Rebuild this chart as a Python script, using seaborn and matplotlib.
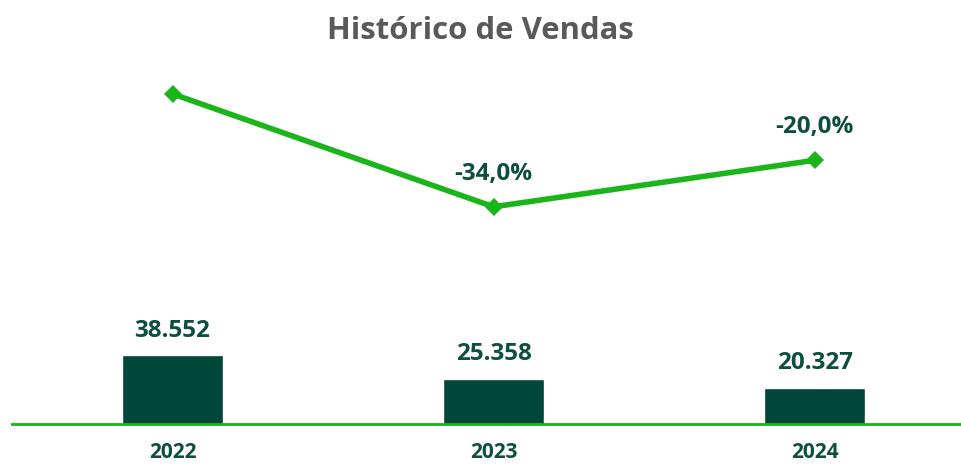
import pandas as pd
import matplotlib.pyplot as plt
import seaborn as sns

# dados
anos = ["2022", "2023", "2024"]
vendas = [38552, 25358, 20327]
variacao = [0.0, -34.0, -20.0]
rotulos_var = ["", "-34,0%", "-20,0%"]

verde_escuro = "#00473a"
verde_claro = "#1ab51a"
texto = "#0d4f3f"

sns.set_theme(style="white")
plt.rcParams['font.family'] = ['Open Sans', 'DejaVu Sans']

df = pd.DataFrame({'ano': anos, 'vendas': vendas, 'var': variacao})

fig = plt.figure(figsize=(9.61, 4.66), dpi=100)
ax = fig.add_axes([12 / 961, 42 / 466, 949 / 961, 364 / 466])

sns.barplot(data=df, x='ano', y='vendas', color=verde_escuro, width=0.315,
            saturation=1, ax=ax)
ax.set_xlim(-0.5, 2.456)
ax.set_ylim(0, 203400)
ax.set_xlabel("")
ax.set_ylabel("")
ax.set_yticks([])
for s in ['top', 'right', 'left']:
    ax.spines[s].set_visible(False)
ax.spines['bottom'].set_color(verde_claro)
ax.spines['bottom'].set_linewidth(2)
ax.tick_params(axis='x', length=0, pad=13, labelsize=15, labelcolor=texto)
for lbl in ax.get_xticklabels():
    lbl.set_fontweight('bold')

for i, v in enumerate(vendas):
    ax.annotate(f"{v:,}".replace(",", "."), (i, v), xytext=(0, 9),
                textcoords='offset points', ha='center', va='bottom',
                fontsize=17.5, fontweight='bold', color=texto)

ax2 = ax.twinx()
sns.lineplot(x=list(range(len(anos))), y=variacao, color=verde_claro,
             linewidth=4, marker='D', markersize=9, markeredgewidth=0,
             ax=ax2)
ax2.set_ylim(-99.4, 10.2)
ax2.set_yticks([])
for s in ['top', 'right', 'left', 'bottom']:
    ax2.spines[s].set_visible(False)

for i, (v, t) in enumerate(zip(variacao, rotulos_var)):
    if t:
        ax2.annotate(t, (i, v), xytext=(0, 15), textcoords='offset points',
                     ha='center', va='bottom', fontsize=17.5,
                     fontweight='bold', color=texto)

fig.text(0.5, 1 - 31 / 466, "Histórico de Vendas", ha='center', va='center',
         fontsize=22.4, fontweight='bold', color='#595959')

fig.savefig("out.png", dpi=100)
